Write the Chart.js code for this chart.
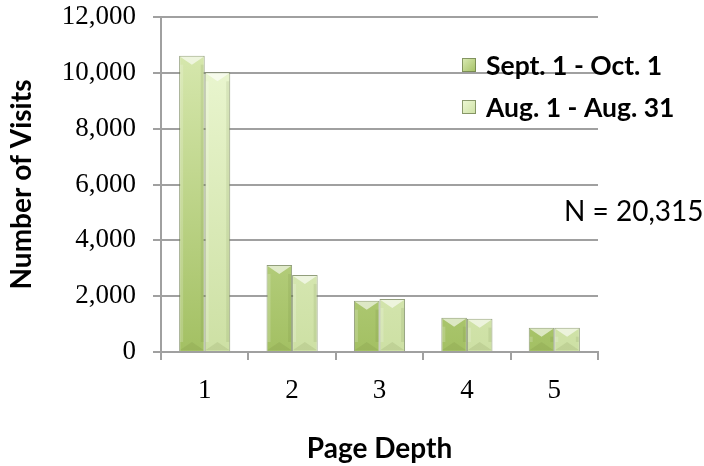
<!DOCTYPE html>
<html>
<head>
<meta charset="utf-8">
<script src="https://cdn.jsdelivr.net/npm/chart.js@4/dist/chart.umd.min.js"></script>
<style>
  html, body { margin: 0; padding: 0; background: #fff; }
  #wrap { width: 704px; height: 466px; }
</style>
</head>
<body>
<div id="wrap"><canvas id="chart" width="704" height="466"></canvas></div>
<script>
// page depth data
const categories = ['1', '2', '3', '4', '5'];
const septValues = [10615, 3115, 1840, 1230, 870];
const augValues = [10020, 2760, 1900, 1195, 870];
const seriesLabels = ['Sept. 1 - Oct. 1', 'Aug. 1 - Aug. 31'];
const yTicks = [0, 2000, 4000, 6000, 8000, 10000, 12000];
const noteText = 'N = 20,315';

const colors = [
  { top: '#dcecb6', bottom: '#a3c063' },
  { top: '#eef9d6', bottom: '#cde0a4' },
];

const barFill = (idx) => (ctx) => {
  const area = ctx.chart.chartArea;
  if (!area) return colors[idx].bottom;
  const g = ctx.chart.ctx.createLinearGradient(0, area.top, 0, area.bottom);
  g.addColorStop(0, colors[idx].top);
  g.addColorStop(1, colors[idx].bottom);
  return g;
};

// bevel look on each bar
const bevelPlugin = {
  id: 'bevel',
  afterDatasetsDraw(chart) {
    const c = chart.ctx;
    chart.data.datasets.forEach((ds, i) => {
      chart.getDatasetMeta(i).data.forEach((bar) => {
        const { x, y, base, width } = bar.getProps(['x', 'y', 'base', 'width'], true);
        const l = x - width / 2, r = x + width / 2;
        const b = Math.min(9, (base - y) / 2);
        c.save();
        c.fillStyle = 'rgba(255,255,255,0.6)';
        c.beginPath();
        c.moveTo(l + 1, y + 1); c.lineTo(r - 1, y + 1); c.lineTo(x, y + b); c.closePath();
        c.fill();
        c.fillStyle = 'rgba(90,110,40,0.12)';
        c.beginPath();
        c.moveTo(l + 1, base - 1); c.lineTo(r - 1, base - 1); c.lineTo(x, base - b); c.closePath();
        c.fill();
        c.fillStyle = 'rgba(255,255,255,0.18)';
        c.fillRect(l + 1, y + b, 3, base - y - 2 * b);
        c.fillStyle = 'rgba(80,100,40,0.10)';
        c.fillRect(r - 4, y + b, 3, base - y - 2 * b);
        c.restore();
      });
    });
  },
};

// legend and note text drawn at fixed spots like the original
const extrasPlugin = {
  id: 'extras',
  afterDraw(chart) {
    const c = chart.ctx;
    c.save();
    chart.data.datasets.forEach((ds, i) => {
      const cy = 65 + i * 42;
      const g = c.createLinearGradient(462, cy - 7, 476, cy + 7);
      g.addColorStop(0, colors[i].top);
      g.addColorStop(1, colors[i].bottom);
      c.fillStyle = g;
      c.fillRect(462, cy - 7, 14, 14);
      c.strokeStyle = 'rgba(100,115,70,0.7)';
      c.lineWidth = 1;
      c.strokeRect(462.5, cy - 6.5, 13, 13);
      c.fillStyle = '#000';
      c.font = 'bold 26.5px Lato';
      c.textBaseline = 'middle';
      c.fillText(ds.label, 486, cy + 1);
    });
    c.font = '28px Lato';
    c.fillStyle = '#000';
    c.textBaseline = 'middle';
    c.fillText(noteText, 564, 212);
    c.restore();
  },
};

new Chart(document.getElementById('chart'), {
  type: 'bar',
  data: {
    labels: categories,
    datasets: [
      { label: seriesLabels[0], data: septValues, backgroundColor: barFill(0) },
      { label: seriesLabels[1], data: augValues, backgroundColor: barFill(1) },
    ].map((d) => ({
      ...d,
      borderColor: 'rgba(110,125,80,0.75)',
      borderWidth: 1,
      categoryPercentage: 0.585,
      barPercentage: 1,
    })),
  },
  options: {
    responsive: false,
    animation: false,
    layout: { padding: { top: 17, right: 106, left: 0, bottom: 0 } },
    plugins: { legend: { display: false }, tooltip: { enabled: false } },
    scales: {
      x: {
        grid: { drawOnChartArea: false, color: '#a0a0a0', lineWidth: 2, tickLength: 8, offset: true },
        border: { color: '#a0a0a0', width: 2 },
        ticks: { color: '#000', font: { family: 'Liberation Serif', size: 27 }, padding: 15 },
        title: {
          display: true, text: 'Page Depth', color: '#000',
          font: { family: 'Lato', size: 28, weight: 'bold' }, padding: { top: 0, bottom: 0 },
        },
        afterFit(scale) { scale.height = 114; },
      },
      y: {
        min: 0,
        max: 12000,
        afterBuildTicks(scale) { scale.ticks = yTicks.map((v) => ({ value: v })); },
        grid: { color: '#a0a0a0', lineWidth: 2, tickLength: 8 },
        border: { color: '#a0a0a0', width: 2 },
        ticks: {
          color: '#000', padding: 17,
          font: { family: 'Liberation Serif', size: 27 },
          callback: (v) => v.toLocaleString('en-US'),
        },
        title: {
          display: true, text: 'Number of Visits', color: '#000',
          font: { family: 'Lato', size: 28, weight: 'bold' }, padding: { top: 5, bottom: 0 },
        },
        afterFit(scale) {
          scale.width = 161;
          scale.paddingTop = 0;
          scale.paddingBottom = 0;
        },
      },
    },
  },
  plugins: [bevelPlugin, extrasPlugin],
});
</script>
</body>
</html>
